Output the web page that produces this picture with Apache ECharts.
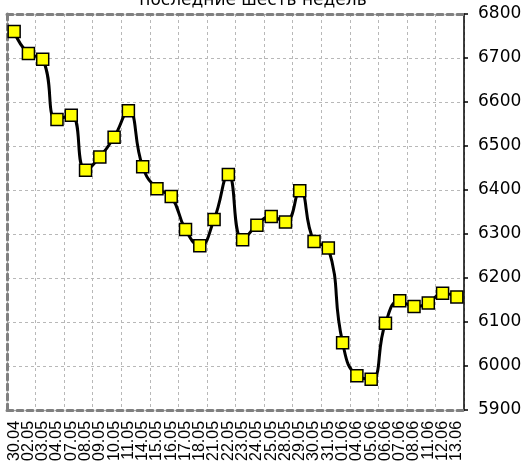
<!DOCTYPE html>
<html>
<head>
<meta charset="utf-8">
<script src="https://cdn.jsdelivr.net/npm/echarts@6/dist/echarts.min.js"></script>
<style>
  html, body { margin: 0; padding: 0; background: #fff; }
  #chart { width: 527px; height: 464px; }
</style>
</head>
<body>
<div id="chart"></div>
<script>
// даты (подписи оси X)
let dates = ['30.04', '02.05', '03.05', '04.05', '07.05', '08.05', '09.05', '10.05', '11.05',
    '14.05', '15.05', '16.05', '17.05', '18.05', '21.05', '22.05', '23.05', '24.05', '25.05',
    '28.05', '29.05', '30.05', '31.05', '01.06', '04.06', '05.06', '06.06', '07.06', '08.06',
    '11.06', '12.06', '13.06'];
// значения
let values = [6760, 6710, 6697, 6560, 6570, 6445, 6475, 6520, 6580,
    6453, 6403, 6385, 6310, 6273, 6333, 6435, 6287, 6320, 6340,
    6327, 6398, 6283, 6268, 6053, 5978, 5970, 6097, 6148, 6135,
    6143, 6165, 6157];
let titleText = 'последние шесть недель';
let yMin = 5900, yMax = 6800, yStep = 100;

// вертикальная сетка - через каждые две даты
let gridCols = [];
for (let i = 0; i < dates.length / 2; i++) gridCols.push(String(i));

let chart = echarts.init(document.getElementById('chart'));

let borderLine = { show: true, lineStyle: { color: '#808080', width: 3, type: [6, 4] } };
let dotLine = { show: true, lineStyle: { color: '#b8b8b8', width: 1, type: [3, 3] } };

chart.setOption({
    animation: false,
    title: {
        text: titleText,
        left: 248, top: -13,
        textAlign: 'center',
        textStyle: { fontFamily: 'DejaVu Sans', fontSize: 17, fontWeight: 'normal', color: '#000' }
    },
    grid: { left: 7, right: 63, top: 14, bottom: 54, containLabel: false },
    xAxis: [{
        type: 'category',
        data: dates,
        boundaryGap: true,
        axisLine: borderLine,
        axisTick: { show: false },
        axisLabel: {
            interval: 0, rotate: 90, margin: 11,
            fontFamily: 'Liberation Sans', fontSize: 16, color: '#000'
        },
        splitLine: { show: false }
    }, {
        type: 'category',
        data: gridCols,
        position: 'top',
        boundaryGap: true,
        axisLine: borderLine,
        axisTick: { show: false },
        axisLabel: { show: false },
        splitLine: dotLine
    }],
    yAxis: [{
        type: 'value',
        position: 'right',
        min: yMin, max: yMax, interval: yStep,
        axisLine: { show: true, lineStyle: { color: '#000', width: 1.5 } },
        axisTick: { show: true, inside: false, length: 4, lineStyle: { color: '#000', width: 1.5 } },
        axisLabel: {
            margin: 14, fontFamily: 'DejaVu Sans', fontSize: 17, color: '#000',
            formatter: v => String(v)
        },
        splitLine: dotLine
    }, {
        type: 'value',
        position: 'left',
        min: yMin, max: yMax, interval: yStep,
        axisLine: borderLine,
        axisTick: { show: false },
        axisLabel: { show: false },
        splitLine: { show: false }
    }],
    series: [{
        type: 'line',
        data: values,
        smooth: 0.5,
        symbol: 'rect',
        symbolSize: 12,
        lineStyle: { color: '#000', width: 3 },
        itemStyle: { color: '#ffff00', borderColor: '#000', borderWidth: 1.5 },
        z: 5
    }]
});
</script>
</body>
</html>
